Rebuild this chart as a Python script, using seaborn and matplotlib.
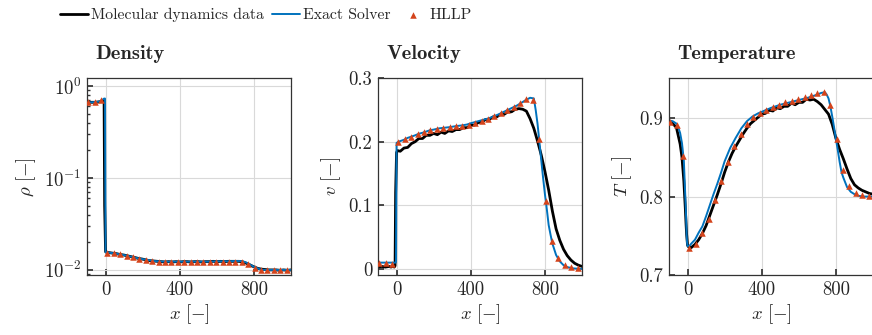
import numpy as np
import pandas as pd
import matplotlib
matplotlib.use('Agg')
import matplotlib.pyplot as plt
import matplotlib.ticker as mticker
import seaborn as sns

sns.set_theme(style='whitegrid')
plt.rcParams['font.family'] = ['cmr10', 'DejaVu Serif']
plt.rcParams['mathtext.fontset'] = 'cm'
plt.rcParams['axes.unicode_minus'] = False
plt.rcParams['axes.formatter.use_mathtext'] = True

######################
## Data (read off)  ##
######################

md_x = [-100, -80, -60, -40, -30, -20, -12, -8, -5, 0, 5, 20, 40, 60, 80, 100,
        120, 140, 160, 180, 200, 220, 240, 260, 280, 300, 320, 340, 360, 380,
        400, 420, 440, 460, 480, 500, 520, 540, 560, 580, 600, 620, 640, 660,
        680, 700, 720, 740, 760, 780, 800, 820, 840, 860, 880, 900, 920, 940,
        960, 980, 1000]
md_rho = [0.66, 0.665, 0.665, 0.67, 0.675, 0.685, 0.70, 0.70, 0.05, 0.0158, 0.0155,
          0.0154, 0.0152, 0.0150, 0.0147, 0.0145, 0.0142, 0.0139, 0.0136, 0.0133,
          0.0131, 0.0128, 0.0126, 0.0125, 0.0124, 0.0123, 0.0122, 0.0123, 0.0122,
          0.0123, 0.0122, 0.0123, 0.0123, 0.0122, 0.0123, 0.0123, 0.0122, 0.0123,
          0.0123, 0.0124, 0.0123, 0.0124, 0.0123, 0.0124, 0.0124, 0.0124, 0.0124,
          0.0122, 0.0118, 0.0113, 0.0108, 0.0104, 0.0102, 0.0101, 0.0100, 0.0100,
          0.0100, 0.0099, 0.0100, 0.0099, 0.0100]
md_v = [0.003, 0.004, 0.003, 0.004, 0.003, 0.004, 0.003, 0.005, 0.12, 0.183, 0.186,
        0.185, 0.190, 0.191, 0.197, 0.200, 0.205, 0.205, 0.210, 0.210, 0.213,
        0.211, 0.215, 0.213, 0.217, 0.216, 0.219, 0.219, 0.222, 0.222, 0.226,
        0.226, 0.230, 0.231, 0.235, 0.235, 0.239, 0.239, 0.243, 0.243, 0.247,
        0.247, 0.251, 0.252, 0.251, 0.248, 0.236, 0.221, 0.201, 0.179, 0.153,
        0.124, 0.091, 0.063, 0.045, 0.031, 0.021, 0.014, 0.009, 0.006, 0.004]
md_T = [0.896, 0.893, 0.888, 0.867, 0.850, 0.820, 0.785, 0.765, 0.752, 0.738, 0.736,
        0.735, 0.739, 0.745, 0.753, 0.763, 0.776, 0.789, 0.802, 0.816, 0.831,
        0.844, 0.855, 0.864, 0.872, 0.880, 0.887, 0.893, 0.897, 0.901, 0.905,
        0.906, 0.910, 0.909, 0.913, 0.912, 0.915, 0.915, 0.919, 0.917, 0.920,
        0.920, 0.924, 0.923, 0.924, 0.921, 0.917, 0.911, 0.905, 0.892, 0.874,
        0.860, 0.848, 0.835, 0.823, 0.815, 0.811, 0.808, 0.806, 0.804, 0.803]

exact_x = [-100, -80, -60, -50, -40, -30, -20, -12, -8, -5, -3, 0, 10, 20, 40, 60,
           80, 100, 120, 140, 160, 180, 200, 230, 260, 290, 320, 350, 380, 400,
           450, 500, 550, 600, 650, 700, 720, 740, 750, 760, 770, 780, 790, 800,
           810, 820, 830, 840, 860, 880, 900, 920, 950, 1000]
exact_rho = [0.665, 0.665, 0.668, 0.67, 0.675, 0.685, 0.70, 0.72, 0.73, 0.73, 0.73,
             0.0156, 0.0155, 0.0154, 0.0152, 0.0150, 0.0147, 0.0145, 0.0142, 0.0139,
             0.0136, 0.0133, 0.0131, 0.0128, 0.0125, 0.0124, 0.0123, 0.0123, 0.0123,
             0.0123, 0.0123, 0.0123, 0.0123, 0.0124, 0.0124, 0.0125, 0.0125, 0.0124,
             0.0122, 0.0120, 0.0117, 0.0114, 0.0111, 0.0108, 0.0106, 0.0104, 0.0102,
             0.0101, 0.0100, 0.0100, 0.0100, 0.0100, 0.0100, 0.0100]
exact_v = [0.010, 0.010, 0.010, 0.010, 0.010, 0.010, 0.010, 0.010, 0.010, 0.010, 0.011,
           0.198, 0.200, 0.201, 0.203, 0.206, 0.208, 0.210, 0.2125, 0.214, 0.216,
           0.218, 0.219, 0.221, 0.222, 0.223, 0.2245, 0.2255, 0.227, 0.229, 0.233,
           0.237, 0.243, 0.250, 0.257, 0.266, 0.269, 0.268, 0.250, 0.228, 0.200,
           0.171, 0.143, 0.117, 0.094, 0.069, 0.054, 0.040, 0.022, 0.012, 0.006,
           0.003, 0.001, 0.000]
exact_T = [0.897, 0.896, 0.893, 0.888, 0.881, 0.868, 0.846, 0.800, 0.775, 0.752, 0.742,
           0.737, 0.737, 0.740, 0.745, 0.754, 0.762, 0.775, 0.789, 0.803, 0.816,
           0.830, 0.845, 0.862, 0.875, 0.887, 0.896, 0.902, 0.906, 0.908, 0.913,
           0.917, 0.920, 0.923, 0.926, 0.930, 0.932, 0.933, 0.930, 0.925, 0.915,
           0.902, 0.888, 0.873, 0.859, 0.844, 0.831, 0.824, 0.812, 0.806, 0.803,
           0.801, 0.800, 0.800]

hllp_x = [-93, -59, -24, 10, 44, 79, 113, 148, 182, 217, 251, 286, 320, 355, 389,
          424, 458, 493, 527, 562, 596, 631, 665, 700, 734, 769, 803, 838, 872,
          907, 941, 976]
hllp_rho = [0.665, 0.675, 0.705, 0.0152, 0.0152, 0.0148, 0.0143, 0.0137, 0.0132,
            0.0127, 0.0124, 0.0123, 0.0122, 0.0122, 0.0122, 0.0122, 0.0122, 0.0122,
            0.0122, 0.0122, 0.0122, 0.0122, 0.0121, 0.0121, 0.0123, 0.0115, 0.0106,
            0.0100, 0.0099, 0.0099, 0.0099, 0.0099]
hllp_v = [0.010, 0.010, 0.0085, 0.199, 0.2035, 0.208, 0.2126, 0.216, 0.219, 0.220,
          0.2216, 0.223, 0.224, 0.225, 0.227, 0.230, 0.233, 0.236, 0.2405, 0.2445,
          0.2495, 0.255, 0.261, 0.267, 0.266, 0.2046, 0.1065, 0.0445, 0.0165, 0.007,
          0.0025, 0.0016]
hllp_T = [0.895, 0.891, 0.852, 0.735, 0.740, 0.753, 0.771, 0.795, 0.820, 0.844, 0.864,
          0.880, 0.893, 0.901, 0.906, 0.910, 0.914, 0.917, 0.920, 0.922, 0.924,
          0.927, 0.929, 0.932, 0.933, 0.917, 0.873, 0.834, 0.813, 0.805, 0.802, 0.801]

md_color = 'black'
exact_color = '#0072BD'
hllp_color = '#D4441C'

panels = [
    ('Density', r'$\rho\ [-]$', md_rho, exact_rho, hllp_rho),
    ('Velocity', r'$v\ [-]$', md_v, exact_v, hllp_v),
    ('Temperature', r'$T\ [-]$', md_T, exact_T, hllp_T),
]

###############
## Plotting  ##
###############

fig = plt.figure(figsize=(8.72, 3.35), dpi=100)
lefts = [0.0998, 0.4335, 0.7672]

for i, (title, ylabel, md, ex, hl) in enumerate(panels):
    ax = fig.add_axes([lefts[i], 0.179, 0.234, 0.588])
    sns.lineplot(x=md_x, y=md, ax=ax, color=md_color, lw=2.0,
                 estimator=None, sort=False, label='Molecular dynamics data')
    sns.lineplot(x=exact_x, y=ex, ax=ax, color=exact_color, lw=1.4,
                 estimator=None, sort=False, label='Exact Solver')
    sns.scatterplot(x=hllp_x, y=hl, ax=ax, color=hllp_color, marker='^',
                    s=22, linewidth=0, zorder=5, label='HLLP')

    ax.set_xlim(-100, 1000)
    ax.set_xticks([0, 400, 800])
    ax.xaxis.set_major_formatter(mticker.FuncFormatter(lambda v, _: f'{v:g}'))

    if i == 0:
        ax.set_yscale('log')
        ax.set_ylim(0.0088, 1.22)
        ax.yaxis.set_major_locator(mticker.LogLocator(base=10, numticks=5))
        ax.yaxis.set_minor_locator(mticker.LogLocator(base=10, subs=np.arange(2, 10), numticks=20))
        ax.yaxis.set_minor_formatter(mticker.NullFormatter())
    elif i == 1:
        ax.set_ylim(-0.0095, 0.3)
        ax.set_yticks([0, 0.1, 0.2, 0.3])
        ax.yaxis.set_major_formatter(mticker.FuncFormatter(lambda v, _: f'{v:g}'))
    else:
        ax.set_ylim(0.7, 0.951)
        ax.set_yticks([0.7, 0.8, 0.9])
        ax.yaxis.set_major_formatter(mticker.FuncFormatter(lambda v, _: f'{v:g}'))

    ax.grid(True, which='major', color='#d9d9d9', lw=0.8)
    ax.grid(False, which='minor')
    ax.set_axisbelow(True)
    for sp in ax.spines.values():
        sp.set_color('#333333')
        sp.set_linewidth(0.9)
    ax.tick_params(which='both', direction='in', left=True, bottom=True,
                   labelsize=13.5, pad=4, color='#333333')
    ax.tick_params(which='major', length=4)
    ax.tick_params(which='minor', length=2.5)

    ax.set_xlabel(r'$x\ [-]$', fontsize=13.5, labelpad=3)
    ax.set_ylabel(ylabel, fontsize=13.5, labelpad=4)
    ax.text(0.04, 1.075, title, transform=ax.transAxes, family='cmb10',
            fontsize=14.8, ha='left', va='bottom')

    handles, labels = ax.get_legend_handles_labels()
    ax.get_legend().remove()

fig.legend(handles, labels, loc='center', bbox_to_anchor=(0.305, 0.955),
           ncol=3, frameon=False, fontsize=11.3, handlelength=1.8,
           handletextpad=0.2, columnspacing=0.5, borderaxespad=0)

fig.savefig('out.png', dpi=100)
